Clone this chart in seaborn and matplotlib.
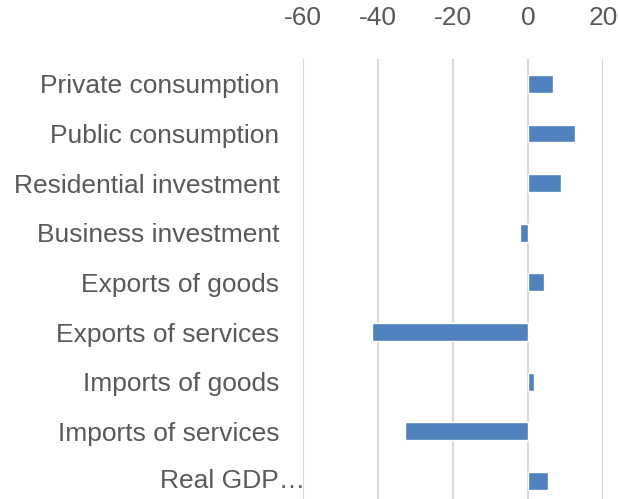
import matplotlib
matplotlib.use("Agg")
import matplotlib.pyplot as plt
import matplotlib.transforms as mtransforms
import seaborn as sns
import pandas as pd

categories = ["Private consumption", "Public consumption", "Residential investment",
              "Business investment", "Exports of goods", "Exports of services",
              "Imports of goods", "Imports of services", "Real GDP…"]
values = [6.7, 12.6, 8.8, -2.1, 4.2, -41.5, 1.5, -32.9, 5.4]
xticks = [-60, -40, -20, 0, 20]

df = pd.DataFrame({"cat": categories, "val": values})

sns.set_theme(style="white")
plt.rcParams["font.family"] = ["Liberation Sans", "DejaVu Sans"]

fig = plt.figure(figsize=(6.18, 4.99), dpi=100)
ax = fig.add_axes([303/618, 0, 300/618, 440/499])

sns.barplot(data=df, x="val", y="cat", orient="h", color="#4F81BD",
            width=0.36, ax=ax, saturation=1)

ax.set_xlim(-60, 20)
ax.set_ylim(8 + 18/49.6, -0.5)
ax.set_xticks(xticks)
ax.set_xticklabels([str(t) for t in xticks])
ax.xaxis.tick_top()
ax.grid(axis="x", color="#D9D9D9", linewidth=1.5)
ax.set_axisbelow(True)
for s in ax.spines.values():
    s.set_visible(False)
ax.tick_params(axis="both", length=0, labelsize=19, labelcolor="#595959")
ax.tick_params(axis="x", pad=21)
ax.tick_params(axis="y", pad=17)
ax.set_xlabel("")
ax.set_ylabel("")

# The last (truncated) label sits further right in the reference
ax.set_yticks(range(len(categories)))
labels = list(categories)
labels[-1] = ""
ax.set_yticklabels(labels)
ax.text(0.008, len(categories) - 1, categories[-1],
        transform=mtransforms.blended_transform_factory(ax.transAxes, ax.transData),
        ha="right", va="center", fontsize=19, color="#595959")

fig.savefig("out.png", dpi=100)
